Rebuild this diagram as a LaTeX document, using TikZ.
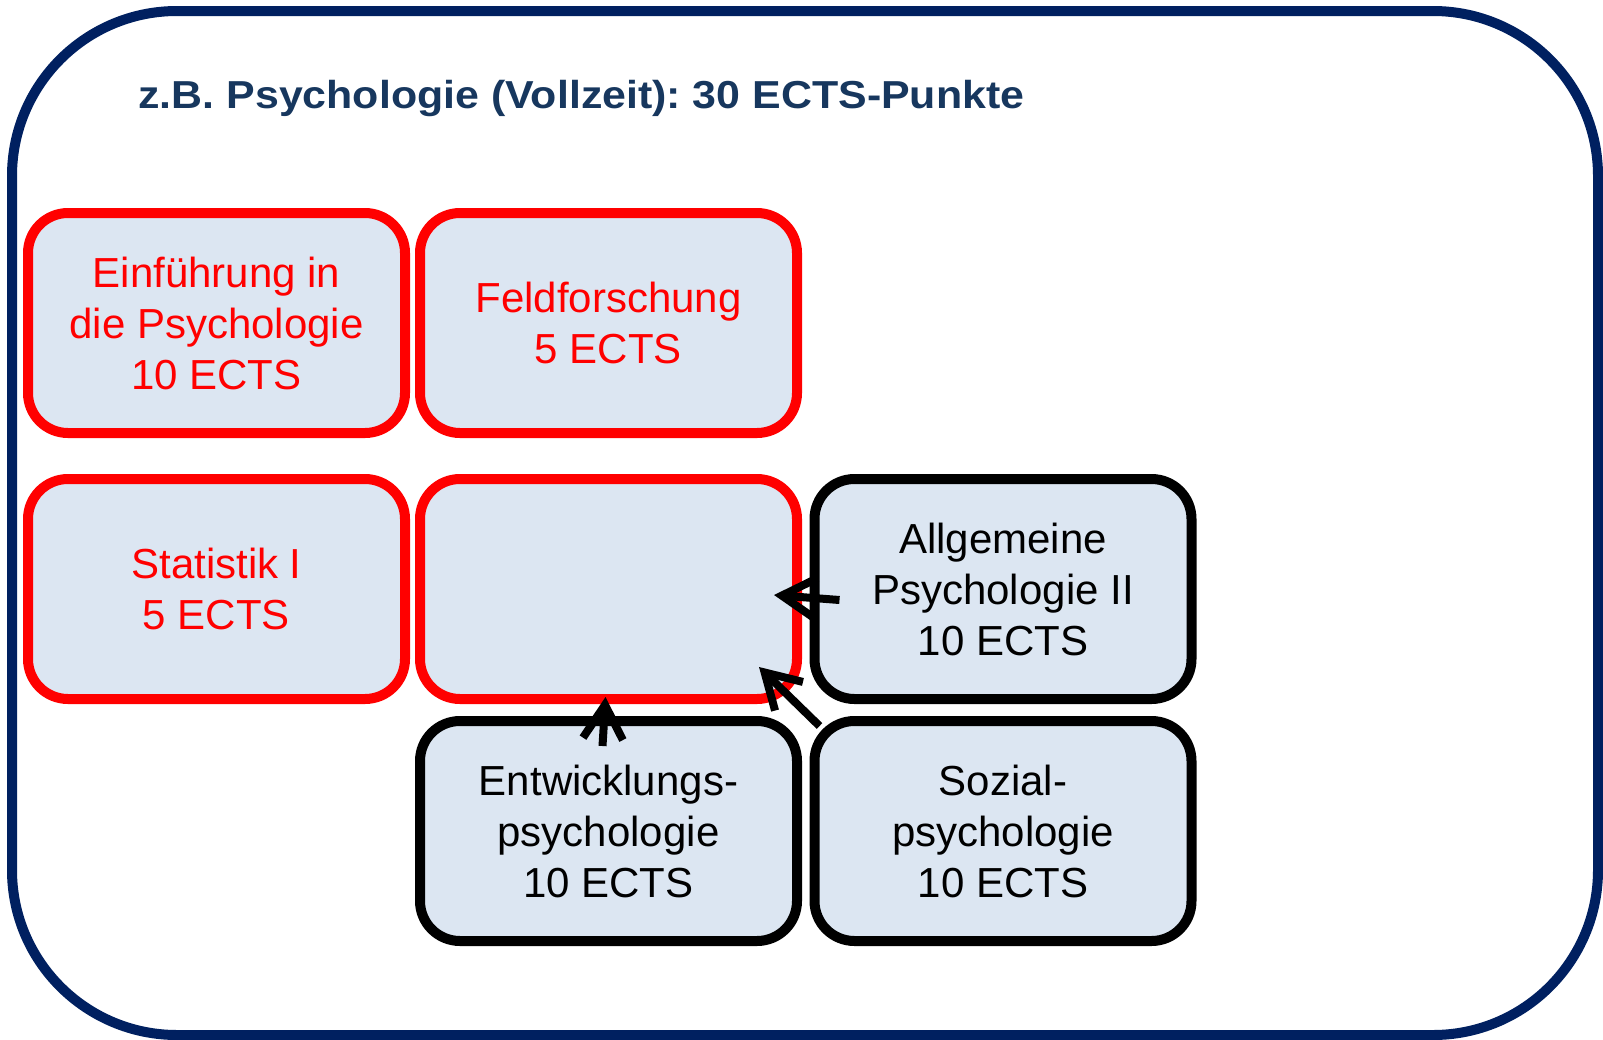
\documentclass[tikz,border=0pt]{standalone}
\usepackage{fontspec}
\setmainfont{Liberation Sans}
\usetikzlibrary{arrows.meta,calc}
\frenchspacing

\definecolor{rahmen}{RGB}{0,32,96}
\definecolor{titel}{RGB}{23,55,94}
\definecolor{kasten}{RGB}{220,230,242}
\definecolor{rot}{RGB}{255,0,0}

\tikzset{every picture/.style={line width=0.75pt}}
\tikzset{
  modul/.style={draw, fill=kasten, line width=10pt, rounded corners=40pt,
    minimum width=377pt, minimum height=220pt, align=center, inner sep=0pt,
    font=\fontsize{42}{51}\selectfont},
  pflicht/.style={modul, draw=rot, text=rot},
  wahl/.style={modul, draw=black, text=black},
  pfeil/.style={line width=8pt, -{Straight Barb[length=34pt,width=40pt]}}
}

\begin{document}
\begin{tikzpicture}[x=1pt,y=1pt,yscale=-1,xscale=1]
        \useasboundingbox (0,0) rectangle (1603,1039);
        %Rounded Rect (Rahmen)
        \draw [color=rahmen, line width=10pt, rounded corners=165pt] (12,11) rectangle (1598,1035);

        % Text Node
        \node (titel) [anchor=base west, inner sep=0pt, text=titel, font=\fontsize{39}{46}\selectfont\bfseries] at (138,108) {\scalebox{1.1}[1]{z.B. Psychologie (Vollzeit): 30 ECTS-Punkte}};

        %Pflichtmodule
        \node (einf)  [pflicht] at (216.5,323) {Einführung in\\die Psychologie\\10 ECTS};
        \node (feld)  [pflicht] at (608.5,323) {Feldforschung\\5 ECTS};
        \node (stat)  [pflicht] at (216.5,589) {Statistik I\\5 ECTS};
        \node (leer)  [pflicht] at (608.5,589) {};
        %Wahlmodule
        \node (allg)  [wahl] at (1003,589) {Allgemeine\\Psychologie II\\10 ECTS};
        \node (entw)  [wahl] at (608.5,831) {Entwicklungs-\\psychologie\\10 ECTS};
        \node (sozial) [wahl] at (1003,831) {Sozial-\\psychologie\\10 ECTS};

        %Arrows
        \draw [pfeil] ($(allg.west)+(30,11)$) -- ($(leer.east)+(-28,6)$);
        \draw [pfeil] ($(entw.north)+(-6,30)$) -- ($(leer.south)+(-3,-7)$);
        \draw [pfeil] ($(sozial.north west)+(10,10)$) -- ($(leer.south east)+(-43,-37)$);
\end{tikzpicture}
\end{document}
